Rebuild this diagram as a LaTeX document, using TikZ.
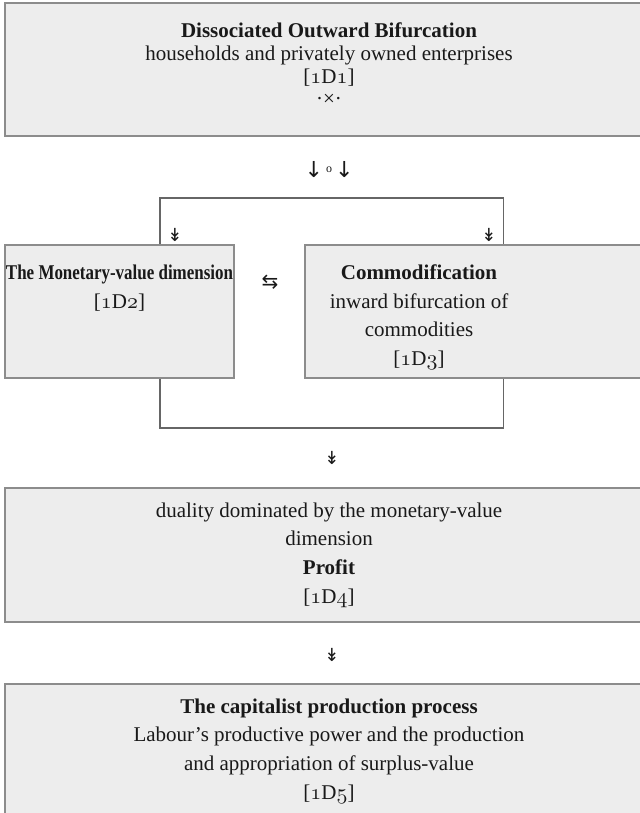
\documentclass[tikz,border=0pt]{standalone}
\usepackage{fontspec}
\setmainfont{Liberation Serif}
\newfontfamily\arrowfont{DejaVu Sans}
\newcommand{\osn}[1]{{\usefont{OML}{cmm}{m}{it}#1}}
\newcommand{\celltext}[4][c]{\parbox[c][#2][#1]{#3}{\centering #4}}

\begin{document}
\begin{tikzpicture}[x=0.5pt,y=-0.5pt]
\tikzstyle{every node}=[font=\fontsize{10.5}{14.3}\selectfont, text=black!90]
\tikzstyle{cell}=[draw=black!45, line width=1pt, fill=black!7, inner sep=0pt]
\tikzstyle{link}=[draw=black!60, line width=0.6pt]
\tikzstyle{sign}=[font=\arrowfont\fontsize{9}{9}\selectfont, inner sep=1pt]

\useasboundingbox (0,0) rectangle (639,813);

% boxes
\node[cell, font=\fontsize{10.5}{11.5}\selectfont] (d1) at (329,69.5)
  {\celltext[t]{66.5pt}{324pt}{\vspace*{10pt}\textbf{Dissociated Outward Bifurcation}\\
   households and privately owned enterprises\\ {[}\osn{1}D\osn{1}{]}\\[-0.5pt] ·×·}};
\node[cell] (d2) at (119.5,311.5)
  {\celltext[t]{66.5pt}{114.5pt}{\vspace*{10pt}\resizebox{113.5pt}{\height}{\textbf{The Monetary-value dimension}}\\
   {[}\osn{1}D\osn{2}{]}}};
\node[cell] (d3) at (479,311.5)
  {\parbox[c][66.5pt][t]{174pt}{\vspace*{10pt}\parbox[t]{114pt}{\centering \textbf{Commodification}\\
   inward bifurcation of\\ commodities\\ {[}\osn{1}D\osn{3}{]}}}};
\node[cell] (d4) at (329,555)
  {\celltext{67pt}{324pt}{duality dominated by the monetary-value\\ dimension\\
   \textbf{Profit}\\ {[}\osn{1}D\osn{4}{]}}};
\node[cell] (d5) at (329,751)
  {\celltext{67pt}{324pt}{\textbf{The capitalist production process}\\
   Labour’s productive power and the production\\ and appropriation of surplus-value\\
   {[}\osn{1}D\osn{5}{]}}};

% arrow signs
\node[sign, font=\arrowfont\fontsize{11}{11}\selectfont] (split) at (329,170)
  {↓\hspace{1.5pt}\raisebox{2.5pt}{\rmfamily\fontsize{6}{6}\selectfont o}\hspace{1.5pt}↓};
\node[sign] (downl) at (175,235) {↡};
\node[sign] (downr) at (489,235) {↡};
\node[sign, font=\arrowfont\fontsize{10}{10}\selectfont] (swap) at (270,282) {⇆};
\node[sign] (down4) at (332,458) {↡};
\node[sign] (down5) at (332,655) {↡};

% brackets
\coordinate (lx) at (160,0);
\coordinate (rx) at (503.5,0);
\coordinate (upbar) at (0,198);
\coordinate (lowbar) at (0,428);
\draw[link] (d2.north -| lx) |- (upbar -| rx) -- (d3.north -| rx);
\draw[link] (d2.south -| lx) |- (lowbar -| rx) -- (d3.south -| rx);
\end{tikzpicture}
\end{document}
